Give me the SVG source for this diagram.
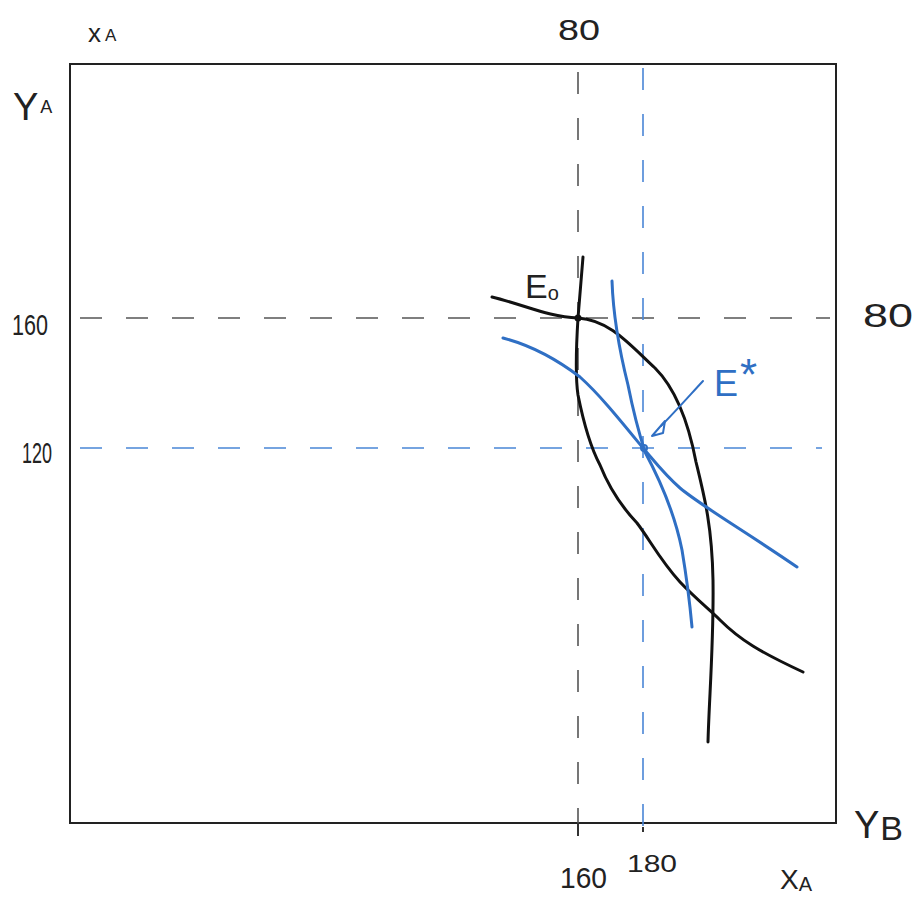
<svg xmlns="http://www.w3.org/2000/svg" width="918" height="898" viewBox="0 0 918 898">
<style>
.hw{font-family:"Liberation Sans","DejaVu Sans",sans-serif;fill:#222}
.hwb{font-family:"Liberation Sans","DejaVu Sans",sans-serif;fill:#2f6fc4}
.dk{fill:none;stroke:#555;stroke-width:1.6;stroke-dasharray:22 24}
.db{fill:none;stroke:#4a86d6;stroke-width:1.6;stroke-dasharray:22 24}
.ck{fill:none;stroke:#111;stroke-width:3;stroke-linecap:round;stroke-linejoin:round}
.cb{fill:none;stroke:#2f6fc4;stroke-width:3;stroke-linecap:round;stroke-linejoin:round}
</style>
<rect width="918" height="898" fill="#fff"/>
<g id="box"><rect x="70" y="64" width="766" height="759" fill="none" stroke="#222" stroke-width="2"/></g>
<g id="connectors">
<line class="dk" x1="80" y1="318" x2="830" y2="318"/>
<line class="dk" x1="578" y1="72" x2="578" y2="838"/>
<line class="db" x1="80" y1="448" x2="822" y2="448"/>
<line class="db" x1="643" y1="68" x2="643" y2="834"/>
<path class="ck" d="M492,297 C525,305 548,317 578,318 C610,320 630,345 655,368 C675,388 688,420 696,462 C704,495 712,525 713,580 C714,640 709,700 708,742"/>
<path class="ck" d="M583,257 L578,318 C576,350 575,375 578,395 C585,430 592,450 600,465 C608,485 620,505 637,523 C650,540 660,560 680,582 C695,598 710,610 720,620 C740,640 760,652 803,672"/>
<path class="cb" d="M503,338 C530,345 555,358 580,377 C600,395 620,420 643,448 C655,462 665,475 680,488 C700,505 740,528 797,567"/>
<path class="cb" d="M612,281 C613,310 618,345 628,385 C633,410 638,430 645,452 C660,480 675,515 682,550 C687,580 690,605 692,627"/>
<path fill="none" stroke="#2f6fc4" stroke-width="2" stroke-linecap="round" d="M703,381 C690,395 675,412 661,426"/>
<polygon points="652,436 665,421 663,433" fill="none" stroke="#2f6fc4" stroke-width="2" stroke-linejoin="round"/>
</g>
<g id="E0"><circle cx="578" cy="318" r="3.5" fill="#111"/>
<text class="hw" x="525" y="298" font-size="34">E<tspan font-size="20" dy="2">o</tspan></text></g>
<g id="Estar"><circle cx="644" cy="448" r="3" fill="none" stroke="#2f6fc4" stroke-width="2"/>
<text class="hwb" x="714" y="396" font-size="36">E<tspan font-size="44" dx="2" dy="-6">*</tspan></text></g>
<g id="labels">
<text class="hw" x="88" y="42" font-size="26">x<tspan font-size="17" dx="4" dy="-1">A</tspan></text>
<text class="hw" x="13" y="120" font-size="38">Y<tspan font-size="18" dx="2" dy="-7">A</tspan></text>
<text class="hw" x="558" y="40" font-size="30" textLength="42" lengthAdjust="spacingAndGlyphs">80</text>
<text class="hw" x="12" y="335" font-size="30" textLength="36" lengthAdjust="spacingAndGlyphs">160</text>
<text class="hw" x="22" y="463" font-size="30" textLength="30" lengthAdjust="spacingAndGlyphs">120</text>
<text class="hw" x="863" y="327" font-size="34" textLength="50" lengthAdjust="spacingAndGlyphs">80</text>
<line x1="578" y1="823" x2="578" y2="836" stroke="#333" stroke-width="2"/>
<line x1="643" y1="827" x2="643" y2="832" stroke="#333" stroke-width="2"/>
<text class="hw" x="560" y="888" font-size="30" textLength="47" lengthAdjust="spacingAndGlyphs">160</text>
<text class="hw" x="627" y="872" font-size="24" textLength="50" lengthAdjust="spacingAndGlyphs">180</text>
<text class="hw" x="780" y="889" font-size="28">X<tspan font-size="20" dy="2">A</tspan></text>
<text class="hw" x="854" y="838" font-size="38">Y<tspan font-size="34" dx="1" dy="2">B</tspan></text>
</g>
</svg>
